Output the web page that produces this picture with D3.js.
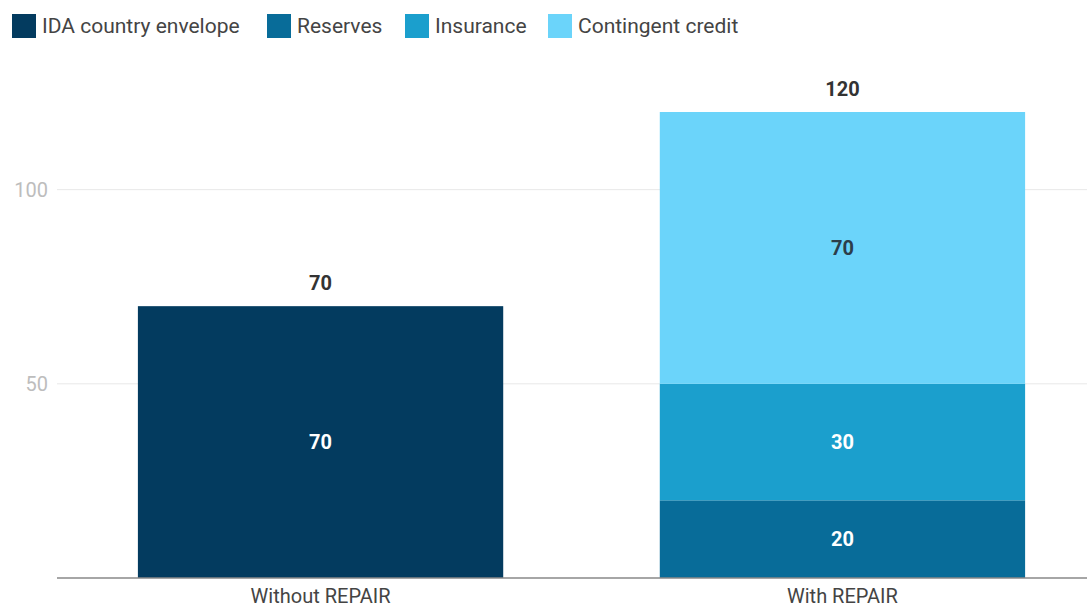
<!DOCTYPE html>
<html>
<head>
<meta charset="utf-8">
<script src="https://cdn.jsdelivr.net/npm/d3@7"></script>
<style>
  body { margin: 0; background: #fff; }
  svg { display: block; font-family: Roboto, "Noto Sans", sans-serif; }
  .tick-label { fill: #bdbdbd; font-size: 20px; }
  .cat-label { fill: #444; font-size: 20px; }
  .legend-text { fill: #444; font-size: 21px; }
  .value-label { font-size: 20px; font-weight: bold; }
</style>
</head>
<body>
<svg id="chart"></svg>
<script>
// chart values
const categories = ['Without REPAIR', 'With REPAIR'];
const seriesNames = ['IDA country envelope', 'Reserves', 'Insurance', 'Contingent credit'];
const idaValues = [70, 0];
const reservesValues = [0, 20];
const insuranceValues = [0, 30];
const contingentValues = [0, 70];
const yTicks = [50, 100];

const colors = ['#033b5f', '#086c99', '#1b9fcd', '#6bd4fa'];
const labelColors = ['#fff', '#fff', '#fff', '#2c3e4a'];

const width = 1087, height = 610;
const margin = {top: 112, bottom: 32, left: 57};

const svg = d3.select('#chart')
    .attr('width', width)
    .attr('height', height);

// build rows for stacking
const rows = categories.map((c, i) => ({
  category: c,
  'IDA country envelope': idaValues[i],
  'Reserves': reservesValues[i],
  'Insurance': insuranceValues[i],
  'Contingent credit': contingentValues[i]
}));

// stack bottom-up: IDA, Reserves, Insurance, Contingent credit
const stack = d3.stack().keys(seriesNames);
const stacked = stack(rows);

const xScale = d3.scaleBand()
    .domain(categories)
    .range([margin.left, 1106])
    .paddingInner(0.3)
    .paddingOuter(0.155);

const yScale = d3.scaleLinear()
    .domain([0, 120])
    .range([height - margin.bottom, margin.top]);

// gridlines + tick labels
const grid = svg.append('g');
grid.selectAll('line')
    .data(yTicks)
  .join('line')
    .attr('x1', margin.left)
    .attr('x2', width)
    .attr('y1', d => yScale(d))
    .attr('y2', d => yScale(d))
    .attr('stroke', '#e8e8e8')
    .attr('stroke-width', 1);

grid.selectAll('text')
    .data(yTicks)
  .join('text')
    .attr('class', 'tick-label')
    .attr('x', 48)
    .attr('y', d => yScale(d))
    .attr('dy', '0.35em')
    .attr('text-anchor', 'end')
    .text(d => d);

// bars
const layers = svg.append('g')
  .selectAll('g')
  .data(stacked)
  .join('g')
    .attr('fill', (d, i) => colors[i]);

layers.selectAll('rect')
    .data(d => d.filter(s => s[1] - s[0] > 0))
  .join('rect')
    .attr('x', d => xScale(d.data.category))
    .attr('width', xScale.bandwidth())
    .attr('y', d => yScale(d[1]))
    .attr('height', d => yScale(d[0]) - yScale(d[1]));

// segment labels
stacked.forEach((layer, i) => {
  svg.append('g')
    .selectAll('text')
    .data(layer.filter(s => s[1] - s[0] > 0))
    .join('text')
      .attr('class', 'value-label')
      .attr('x', d => xScale(d.data.category) + xScale.bandwidth() / 2)
      .attr('y', d => yScale((d[0] + d[1]) / 2))
      .attr('dy', '0.35em')
      .attr('text-anchor', 'middle')
      .attr('fill', labelColors[i])
      .text(d => d[1] - d[0]);
});

// totals above bars
const totals = rows.map(r => d3.sum(seriesNames, k => r[k]));
svg.append('g')
  .selectAll('text')
  .data(categories)
  .join('text')
    .attr('class', 'value-label')
    .attr('fill', '#333')
    .attr('x', d => xScale(d) + xScale.bandwidth() / 2)
    .attr('y', (d, i) => yScale(totals[i]) - 23)
    .attr('dy', '0.35em')
    .attr('text-anchor', 'middle')
    .text((d, i) => totals[i]);

// baseline
svg.append('line')
    .attr('x1', margin.left)
    .attr('x2', width)
    .attr('y1', yScale(0))
    .attr('y2', yScale(0))
    .attr('stroke', '#888')
    .attr('stroke-width', 1.5);

// category labels
svg.append('g')
  .selectAll('text')
  .data(categories)
  .join('text')
    .attr('class', 'cat-label')
    .attr('x', d => xScale(d) + xScale.bandwidth() / 2)
    .attr('y', 603)
    .attr('text-anchor', 'middle')
    .text(d => d);

// legend
const legendX = [12, 267, 405, 548];
const legend = svg.append('g')
  .selectAll('g')
  .data(seriesNames)
  .join('g')
    .attr('transform', (d, i) => `translate(${legendX[i]},14)`);

legend.append('rect')
    .attr('width', 24)
    .attr('height', 24)
    .attr('fill', (d, i) => colors[i]);

legend.append('text')
    .attr('class', 'legend-text')
    .attr('x', 30)
    .attr('y', 12)
    .attr('dy', '0.35em')
    .text(d => d);
</script>
</body>
</html>
